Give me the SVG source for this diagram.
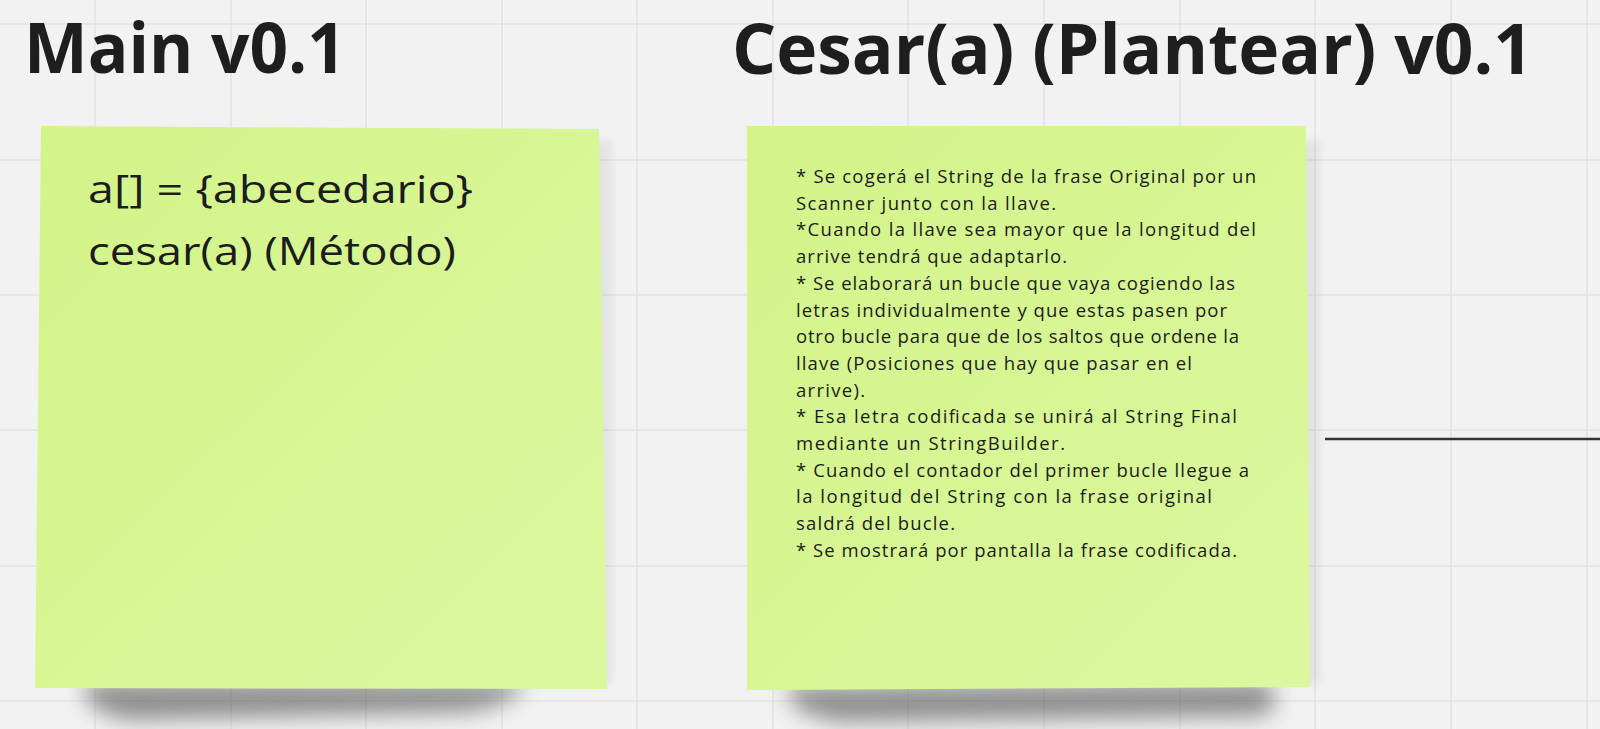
<svg xmlns="http://www.w3.org/2000/svg" width="1600" height="729" viewBox="0 0 1600 729">
<defs>
<style>
.grid line{stroke:#e2e2e2;stroke-width:1.5}
.title{font-family:"Open Sans","Noto Sans",sans-serif;font-weight:700;font-size:69px;fill:#1e1e1e}
.big{font-family:"Open Sans","Noto Sans",sans-serif;font-size:38px;fill:#1c1c1c}
.small{font-family:"Open Sans","Noto Sans",sans-serif;font-size:18.5px;fill:#1c1c1c}
.conn{stroke:#333;stroke-width:2.5;fill:none}
</style>
<linearGradient id="noteFill" x1="0" y1="0" x2="1" y2="1">
<stop offset="0" stop-color="#d3f489"/>
<stop offset="1" stop-color="#dbf89f"/>
</linearGradient>
<filter id="blur" x="-20%" y="-150%" width="140%" height="400%">
<feGaussianBlur stdDeviation="11"/>
</filter>
<filter id="blurS" x="-20%" y="-20%" width="140%" height="140%">
<feGaussianBlur stdDeviation="5"/>
</filter>
</defs>
<rect width="1600" height="729" fill="#f2f2f2"/>
<g class="grid">
<line x1="95" y1="0" x2="95" y2="729"/>
<line x1="231" y1="0" x2="231" y2="729"/>
<line x1="366" y1="0" x2="366" y2="729"/>
<line x1="502" y1="0" x2="502" y2="729"/>
<line x1="637" y1="0" x2="637" y2="729"/>
<line x1="773" y1="0" x2="773" y2="729"/>
<line x1="908" y1="0" x2="908" y2="729"/>
<line x1="1044" y1="0" x2="1044" y2="729"/>
<line x1="1180" y1="0" x2="1180" y2="729"/>
<line x1="1315" y1="0" x2="1315" y2="729"/>
<line x1="1451" y1="0" x2="1451" y2="729"/>
<line x1="1587" y1="0" x2="1587" y2="729"/>
<line x1="0" y1="24" x2="1600" y2="24"/>
<line x1="0" y1="160" x2="1600" y2="160"/>
<line x1="0" y1="295" x2="1600" y2="295"/>
<line x1="0" y1="430" x2="1600" y2="430"/>
<line x1="0" y1="566" x2="1600" y2="566"/>
<line x1="0" y1="701" x2="1600" y2="701"/>
</g>
<g id="title-main">
<text class="title" x="24" y="73" textLength="322" lengthAdjust="spacingAndGlyphs">Main v0.1</text>
</g>
<g id="title-cesar">
<text class="title" x="732" y="74" textLength="801" lengthAdjust="spacingAndGlyphs">Cesar(a) (Plantear) v0.1</text>
</g>
<g id="note-main">
<path d="M85,682 L520,682 Q530,698 470,712 L130,720 Q80,712 85,682 Z" fill="#5a5a5a" opacity="0.65" filter="url(#blur)"/>
<rect x="590" y="140" width="22" height="545" fill="#000" opacity="0.06" filter="url(#blurS)"/>
<polygon points="41,126 599,129 607,689 35,688" fill="url(#noteFill)"/>
<text class="big" x="88" y="203" textLength="385" lengthAdjust="spacingAndGlyphs">a[] = {abecedario}</text>
<text class="big" x="88" y="265" textLength="368" lengthAdjust="spacingAndGlyphs">cesar(a) (Método)</text>
</g>
<g id="note-cesar">
<path d="M790,686 L1262,682 Q1290,700 1262,716 L840,722 Q780,712 790,686 Z" fill="#5a5a5a" opacity="0.65" filter="url(#blur)"/>
<rect x="1298" y="140" width="22" height="545" fill="#000" opacity="0.06" filter="url(#blurS)"/>
<polygon points="747,126 1306,126 1310,687 747,690" fill="url(#noteFill)"/>
<text class="small" x="796" y="183" textLength="460">* Se cogerá el String de la frase Original por un</text>
<text class="small" x="796" y="209.7" textLength="260">Scanner junto con la llave.</text>
<text class="small" x="796" y="236.4" textLength="460">*Cuando la llave sea mayor que la longitud del</text>
<text class="small" x="796" y="263.1" textLength="271">arrive tendrá que adaptarlo.</text>
<text class="small" x="796" y="289.8" textLength="439">* Se elaborará un bucle que vaya cogiendo las</text>
<text class="small" x="796" y="316.5" textLength="431">letras individualmente y que estas pasen por</text>
<text class="small" x="796" y="343.2" textLength="443">otro bucle para que de los saltos que ordene la</text>
<text class="small" x="796" y="369.9" textLength="396">llave (Posiciones que hay que pasar en el</text>
<text class="small" x="796" y="396.6" textLength="69">arrive).</text>
<text class="small" x="796" y="423.3" textLength="441">* Esa letra codificada se unirá al String Final</text>
<text class="small" x="796" y="450" textLength="269">mediante un StringBuilder.</text>
<text class="small" x="796" y="476.7" textLength="453">* Cuando el contador del primer bucle llegue a</text>
<text class="small" x="796" y="503.4" textLength="416">la longitud del String con la frase original</text>
<text class="small" x="796" y="530.1" textLength="159">saldrá del bucle.</text>
<text class="small" x="796" y="556.8" textLength="441">* Se mostrará por pantalla la frase codificada.</text>
</g>
<g id="connectors">
<line class="conn" x1="1325" y1="439" x2="1600" y2="439"/>
</g>
</svg>
